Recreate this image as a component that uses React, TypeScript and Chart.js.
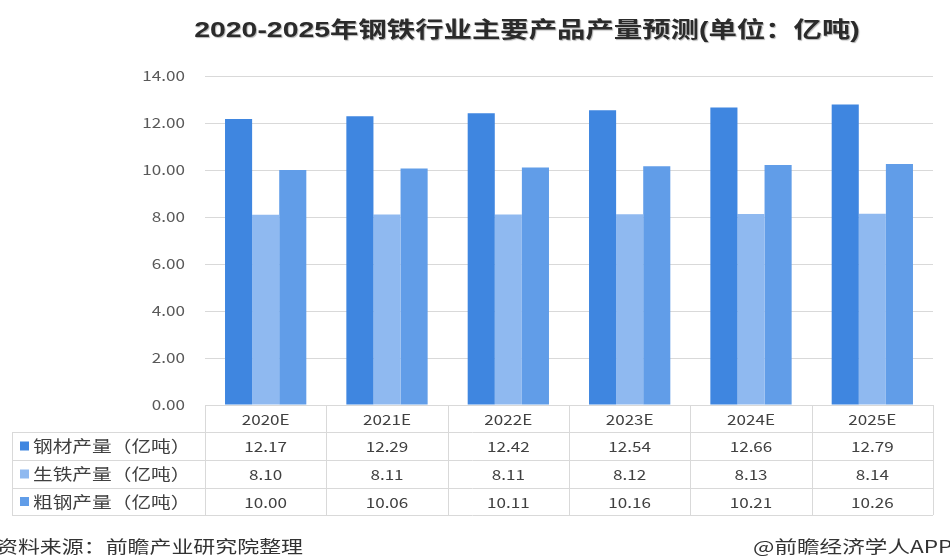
import React, { useEffect, useRef } from "react";
import { Chart, registerables } from "chart.js";

Chart.register(...registerables);

const categories = ["2020E", "2021E", "2022E", "2023E", "2024E", "2025E"];
const seriesNames = ["钢材产量（亿吨）", "生铁产量（亿吨）", "粗钢产量（亿吨）"];
const steel = [12.17, 12.29, 12.42, 12.54, 12.66, 12.79];
const pigIron = [8.1, 8.11, 8.11, 8.12, 8.13, 8.14];
const crudeSteel = [10.0, 10.06, 10.11, 10.16, 10.21, 10.26];
const colors = ["#3f86e0", "#8fb9f0", "#619de8"];
const title = "2020-2025年钢铁行业主要产品产量预测(单位：亿吨)";
const sourceText = "资料来源：前瞻产业研究院整理";
const creditText = "@前瞻经济学人APP";

const CJK = '"Noto Sans CJK SC", "Liberation Sans", sans-serif';
const SX = 1.22;

function drawText(
  ctx: CanvasRenderingContext2D,
  text: string,
  x: number,
  y: number,
  align: CanvasTextAlign,
  font: string,
  color: string,
  sx: number = SX
) {
  ctx.save();
  ctx.translate(x, y);
  ctx.scale(sx, 1);
  ctx.font = font;
  ctx.fillStyle = color;
  ctx.textAlign = align;
  ctx.textBaseline = "middle";
  ctx.fillText(text, 0, 0);
  ctx.restore();
}

const overlayPlugin = {
  id: "overlay",
  afterDraw(chart: any) {
    const ctx: CanvasRenderingContext2D = chart.ctx;
    const { left, right, bottom } = chart.chartArea;
    const xScale = chart.scales.x;
    const yScale = chart.scales.y;
    const data = [steel, pigIron, crudeSteel];

    // title
    ctx.save();
    ctx.shadowColor = "rgba(0,0,0,0.3)";
    ctx.shadowOffsetX = 1;
    ctx.shadowOffsetY = 1;
    ctx.shadowBlur = 1;
    drawText(ctx, title, 527, 31, "center", 'bold 22px "Liberation Sans", "Noto Sans CJK SC", sans-serif', "#2b2b2b", 1.29);
    ctx.restore();

    // y tick labels
    yScale.ticks.forEach((t: any) => {
      const y = yScale.getPixelForValue(t.value);
      drawText(ctx, Number(t.value).toFixed(2), left - 20, y, "right", "14px " + CJK, "#595959");
    });

    // table
    const rowH = [bottom, 432, 460, 488, 515];
    const n = categories.length;
    const colW = (right - left) / n;
    ctx.save();
    ctx.strokeStyle = "#d9d9d9";
    ctx.lineWidth = 1;
    ctx.beginPath();
    ctx.moveTo(left, Math.round(rowH[0]) + 0.5);
    ctx.lineTo(right, Math.round(rowH[0]) + 0.5);
    for (let i = 1; i < rowH.length; i++) {
      ctx.moveTo(12, rowH[i] + 0.5);
      ctx.lineTo(right, rowH[i] + 0.5);
    }
    for (let c = 0; c <= n; c++) {
      const x = Math.round(left + c * colW) + 0.5;
      ctx.moveTo(x, rowH[0]);
      ctx.lineTo(x, rowH[4]);
    }
    ctx.moveTo(12.5, rowH[1]);
    ctx.lineTo(12.5, rowH[4]);
    ctx.stroke();
    ctx.restore();

    categories.forEach((c, i) => {
      const cx = xScale.getPixelForValue(i);
      drawText(ctx, c, cx, (rowH[0] + rowH[1]) / 2 + 1, "center", "14px " + CJK, "#404040");
    });
    for (let r = 0; r < 3; r++) {
      const cy = (rowH[r + 1] + rowH[r + 2]) / 2;
      ctx.fillStyle = colors[r];
      ctx.fillRect(20, cy - 4.5, 9, 9);
      drawText(ctx, seriesNames[r], 33, cy, "left", "16px " + CJK, "#404040", 1.23);
      data[r].forEach((v, i) => {
        const cx = xScale.getPixelForValue(i);
        drawText(ctx, v.toFixed(2), cx, cy + 1, "center", "14px " + CJK, "#404040");
      });
    }

    // footer
    drawText(ctx, sourceText, -4, 547, "left", "17px " + CJK, "#333333", 1.29);
    drawText(ctx, creditText, 753, 547, "left", "17px " + CJK, "#333333", 1.33);
  },
};

export default function App() {
  const ref = useRef<HTMLCanvasElement | null>(null);
  useEffect(() => {
    if (!ref.current) return;
    const chart = new Chart(ref.current, {
      type: "bar",
      data: {
        labels: categories,
        datasets: [
          { label: seriesNames[0], data: steel, backgroundColor: colors[0] },
          { label: seriesNames[1], data: pigIron, backgroundColor: colors[1] },
          { label: seriesNames[2], data: crudeSteel, backgroundColor: colors[2] },
        ],
      },
      options: {
        responsive: false,
        animation: false,
        devicePixelRatio: 1,
        layout: { padding: { top: 76, right: 17, bottom: 153, left: 0 } },
        datasets: { bar: { barPercentage: 1, categoryPercentage: 0.67 } },
        plugins: {
          legend: { display: false },
          title: { display: false },
          tooltip: { enabled: false },
        },
        scales: {
          x: { display: false },
          y: {
            min: 0,
            max: 14,
            ticks: { stepSize: 2, display: false },
            grid: { color: "#d9d9d9", drawTicks: false },
            border: { display: false },
            afterFit: (s: any) => {
              s.width = 205;
            },
          },
        },
      },
      plugins: [overlayPlugin],
    });
    return () => chart.destroy();
  }, []);
  return (
    <div style={{ position: "fixed", left: 0, top: 0, width: 950, height: 558, background: "#fff" }}>
      <canvas ref={ref} width={950} height={558} style={{ width: 950, height: 558 }} />
    </div>
  );
}
